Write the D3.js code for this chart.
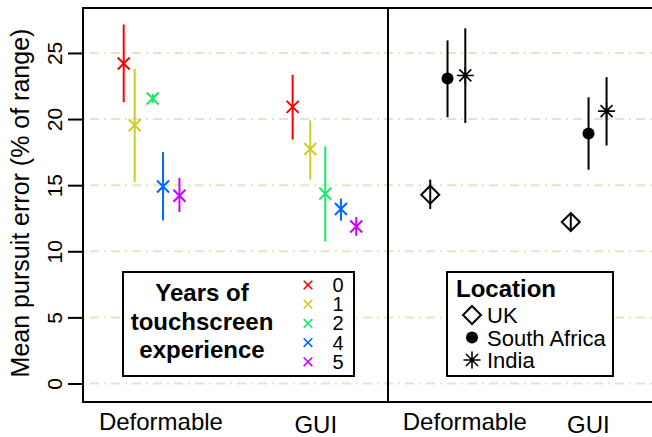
<!DOCTYPE html>
<html>
<head>
<meta charset="utf-8">
<script src="https://cdn.jsdelivr.net/npm/d3@7"></script>
<style>
  body { margin: 0; background: #fff; }
  text { font-family: "Liberation Sans", Arial, Helvetica, sans-serif; }
</style>
</head>
<body>
<svg id="chart" width="652" height="437"></svg>
<script>
// ---- data ----
const interfaces = ["Deformable", "GUI"];
const years = ["0", "1", "2", "4", "5"];
const yearColors = ["#ff0000", "#cccc29", "#11ee66", "#0066ff", "#cc00ff"];
// rows = interface, columns = years of touchscreen experience
const yearMean = [[24.2, 19.53, 21.55, 14.9, 14.2], [20.92, 17.74, 14.36, 13.2, 11.88]];
const yearLow  = [[21.27, 15.24, 21.2, 12.33, 12.97], [18.45, 15.42, 10.74, 12.31, 11.17]];
const yearHigh = [[27.15, 23.8, 21.9, 17.5, 15.55], [23.35, 19.9, 17.94, 13.98, 12.59]];
const yearDodge = [[-0.237, -0.166, -0.05, 0.017, 0.123], [-0.146, -0.032, 0.065, 0.166, 0.265]];

const locations = ["UK", "South Africa", "India"];
const locShapes = ["diamond", "dot", "star"];
const locMean = [[14.28, 23.07, 23.3], [12.21, 18.9, 20.6]];
const locLow  = [[13.2, 20.14, 19.71], [11.58, 16.17, 18.0]];
const locHigh = [[15.42, 25.95, 26.86], [12.9, 21.65, 23.17]];
const locDodge = [[-0.276, -0.136, 0.008], [-0.138, 0.006, 0.152]];

const yTicks = [0, 5, 10, 15, 20, 25];

// ---- layout ----
const svg = d3.select("#chart");
const plotTop = 8, plotBottom = 402;
const leftL = 83, leftR = 388, rightR = 653;

const y = d3.scaleLinear().domain([-1.4, 28.4]).range([plotBottom, plotTop]);
const xLeft = d3.scaleLinear().domain([0.5, 2.47]).range([leftL, leftR]);
const xRight = d3.scaleLinear().domain([0.382, 2.528]).range([leftR, rightR]);

// gridlines across both panels
svg.append("g")
   .selectAll("line")
   .data(yTicks)
   .enter()
   .append("line")
   .attr("x1", leftL)
   .attr("x2", rightR)
   .attr("y1", d => y(d))
   .attr("y2", d => y(d))
   .attr("stroke", "#e9e2c6")
   .attr("stroke-width", 2)
   .attr("stroke-dasharray", "2,5,9,5");

// marker helpers
function cross(g, cx, cy, r, color, w) {
    g.append("path")
     .attr("d", `M${cx - r},${cy - r}L${cx + r},${cy + r}M${cx - r},${cy + r}L${cx + r},${cy - r}`)
     .attr("stroke", color)
     .attr("stroke-width", w)
     .attr("fill", "none");
}

function locMarker(g, shape, cx, cy) {
    if (shape === "diamond") {
        g.append("path")
         .attr("d", `M${cx},${cy - 9}L${cx + 9},${cy}L${cx},${cy + 9}L${cx - 9},${cy}Z`)
         .attr("stroke", "black").attr("stroke-width", 2).attr("fill", "none");
    } else if (shape === "dot") {
        g.append("circle").attr("cx", cx).attr("cy", cy).attr("r", 6).attr("fill", "black");
    } else {
        const r = 8.5, d = 6;
        g.append("path")
         .attr("d", `M${cx - r},${cy}L${cx + r},${cy}M${cx},${cy - r}L${cx},${cy + r}` +
                    `M${cx - d},${cy - d}L${cx + d},${cy + d}M${cx - d},${cy + d}L${cx + d},${cy - d}`)
         .attr("stroke", "black").attr("stroke-width", 1.6).attr("fill", "none");
    }
}

// left panel: years of experience
const gLeft = svg.append("g");
interfaces.forEach((iface, i) => {
    years.forEach((yr, j) => {
        const cx = xLeft(i + 1 + yearDodge[i][j]);
        gLeft.append("line")
             .attr("x1", cx).attr("x2", cx)
             .attr("y1", y(yearLow[i][j])).attr("y2", y(yearHigh[i][j]))
             .attr("stroke", yearColors[j]).attr("stroke-width", 2);
        cross(gLeft, cx, y(yearMean[i][j]), 6, yearColors[j], 2);
    });
});

// right panel: location
const gRight = svg.append("g");
interfaces.forEach((iface, i) => {
    locations.forEach((loc, j) => {
        const cx = xRight(i + 1 + locDodge[i][j]);
        gRight.append("line")
              .attr("x1", cx).attr("x2", cx)
              .attr("y1", y(locLow[i][j])).attr("y2", y(locHigh[i][j]))
              .attr("stroke", "black").attr("stroke-width", 2);
        locMarker(gRight, locShapes[j], cx, y(locMean[i][j]));
    });
});

// left legend
const legL = svg.append("g");
legL.append("rect")
    .attr("x", 123).attr("y", 272).attr("width", 231).attr("height", 104)
    .attr("fill", "white").attr("stroke", "black").attr("stroke-width", 2);
["Years of", "touchscreen", "experience"].forEach((t, k) => {
    legL.append("text")
        .attr("x", 202).attr("y", [301, 330, 358][k])
        .attr("text-anchor", "middle")
        .style("font-size", "24px").style("font-weight", "bold")
        .text(t);
});
years.forEach((yr, j) => {
    const cy = 285 + j * 19.2;
    cross(legL, 308, cy, 4.3, yearColors[j], 1.6);
    legL.append("text")
        .attr("x", 338).attr("y", cy + 7)
        .attr("text-anchor", "middle")
        .style("font-size", "20px")
        .text(yr);
});

// right legend
const legR = svg.append("g");
legR.append("rect")
    .attr("x", 447).attr("y", 272).attr("width", 166).attr("height", 104)
    .attr("fill", "white").attr("stroke", "black").attr("stroke-width", 2);
legR.append("text")
    .attr("x", 456).attr("y", 297)
    .style("font-size", "24px").style("font-weight", "bold")
    .text("Location");
locations.forEach((loc, j) => {
    const cy = 315 + j * 22.5;
    locMarker(legR, locShapes[j], 472, cy);
    legR.append("text")
        .attr("x", 487).attr("y", cy + 8)
        .style("font-size", "22px")
        .text(loc);
});

// panel borders
svg.append("rect")
   .attr("x", leftL).attr("y", plotTop).attr("width", leftR - leftL).attr("height", plotBottom - plotTop)
   .attr("fill", "none").attr("stroke", "black").attr("stroke-width", 2);
svg.append("rect")
   .attr("x", leftR).attr("y", plotTop).attr("width", rightR - leftR + 2).attr("height", plotBottom - plotTop)
   .attr("fill", "none").attr("stroke", "black").attr("stroke-width", 2);

// y axis
const yAxis = svg.append("g")
   .attr("transform", `translate(${leftL},0)`)
   .call(d3.axisLeft(y).tickValues(yTicks).tickSize(15).tickFormat(d3.format("d")));
yAxis.select(".domain").remove();
yAxis.selectAll(".tick line").attr("stroke-width", 2);
yAxis.selectAll(".tick text")
     .attr("transform", "rotate(-90)")
     .attr("x", 0).attr("y", -21).attr("dy", null)
     .attr("text-anchor", "middle")
     .attr("fill", "black")
     .style("font-size", "21px")
     .style("font-family", "'Liberation Sans', Arial, sans-serif");

// x axes (labels only)
function xAxis(scale) {
    const g = svg.append("g")
       .attr("transform", `translate(0,${plotBottom})`)
       .call(d3.axisBottom(scale).tickValues([1, 2]).tickSize(0)
               .tickFormat((d, i) => interfaces[i]));
    g.select(".domain").remove();
    g.selectAll(".tick text")
     .attr("y", (d, i) => i === 0 ? 28 : 31).attr("dy", null)
     .attr("fill", "black")
     .style("font-size", "24px")
     .style("font-family", "'Liberation Sans', Arial, sans-serif");
}
xAxis(xLeft);
xAxis(xRight);

// y axis title
svg.append("text")
   .attr("transform", "translate(29,203) rotate(-90)")
   .attr("text-anchor", "middle")
   .style("font-size", "25px")
   .text("Mean pursuit error (% of range)");
</script>
</body>
</html>
